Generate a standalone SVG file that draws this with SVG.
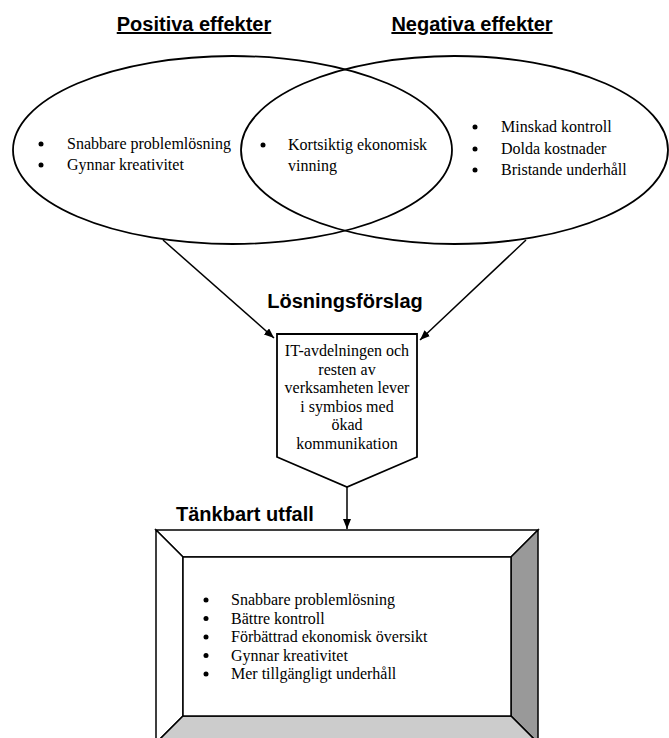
<svg xmlns="http://www.w3.org/2000/svg" width="669" height="738" viewBox="0 0 669 738">
<style>
.title{font-family:"Liberation Sans",Arial,sans-serif;font-weight:bold;font-size:20px;fill:#000}
.ul{text-decoration:underline}
.t{font-family:"Liberation Serif","Times New Roman",serif;font-size:16px;fill:#000}
.shape{fill:none;stroke:#000;stroke-width:1.8}
.line{stroke:#000;stroke-width:1.5;fill:none}
.bev{stroke:#000;stroke-width:1.5;stroke-linejoin:miter}
</style>
<defs>
<marker id="ah" viewBox="0 0 10 8" refX="10" refY="4" markerWidth="10" markerHeight="8" markerUnits="userSpaceOnUse" orient="auto">
<path d="M0,0 L10,4 L0,8 Z" fill="#000"/>
</marker>
</defs>
<rect width="669" height="738" fill="#fff"/>
<g id="titles">
<text class="title ul" x="194" y="31" text-anchor="middle">Positiva effekter</text>
<text class="title ul" x="472" y="31" text-anchor="middle">Negativa effekter</text>
</g>
<g id="positive">
<ellipse class="shape" cx="232.5" cy="150" rx="219.5" ry="94"/>
<circle cx="41" cy="144" r="2.5"/>
<circle cx="41" cy="165" r="2.5"/>
<text class="t" x="67" y="149">Snabbare problemlösning</text>
<text class="t" x="67" y="170">Gynnar kreativitet</text>
</g>
<g id="negative">
<ellipse class="shape" cx="454.5" cy="150" rx="213.5" ry="94"/>
<circle cx="475" cy="127" r="2.5"/>
<circle cx="475" cy="149" r="2.5"/>
<circle cx="475" cy="170" r="2.5"/>
<text class="t" x="501" y="132">Minskad kontroll</text>
<text class="t" x="501" y="153.5">Dolda kostnader</text>
<text class="t" x="501" y="175">Bristande underhåll</text>
</g>
<g id="overlap">
<circle cx="263" cy="145" r="2.5"/>
<text class="t" x="288" y="150">Kortsiktig ekonomisk</text>
<text class="t" x="288" y="171">vinning</text>
</g>
<g id="connectors">
<line class="line" x1="163" y1="240" x2="274" y2="338" marker-end="url(#ah)"/>
<line class="line" x1="526" y1="240" x2="420" y2="340" marker-end="url(#ah)"/>
<line class="line" x1="347" y1="487" x2="347" y2="529" marker-end="url(#ah)"/>
</g>
<g id="losning">
<text class="title" x="345" y="308" text-anchor="middle">Lösningsförslag</text>
<path class="shape" d="M277,334 L417,334 L417,457 L347,487 L277,457 Z" fill="#fff"/>
<text class="t" x="347" y="356" text-anchor="middle">IT-avdelningen och</text>
<text class="t" x="347" y="374.5" text-anchor="middle">resten av</text>
<text class="t" x="347" y="393" text-anchor="middle">verksamheten lever</text>
<text class="t" x="347" y="411.5" text-anchor="middle">i symbios med</text>
<text class="t" x="347" y="430" text-anchor="middle">ökad</text>
<text class="t" x="347" y="448.5" text-anchor="middle">kommunikation</text>
</g>
<g id="utfall">
<text class="title" x="176" y="521">Tänkbart utfall</text>
<path class="bev" d="M156,530 L538,530 L511,557 L183,557 Z" fill="#fff"/>
<path class="bev" d="M156,530 L183,557 L183,716 L156,743 Z" fill="#fff"/>
<path class="bev" d="M538,530 L538,743 L511,716 L511,557 Z" fill="#999"/>
<path class="bev" d="M156,743 L183,716 L511,716 L538,743 Z" fill="#ccc"/>
<rect class="bev" x="183" y="557" width="328" height="159" fill="#fff"/>
<circle cx="206" cy="600" r="2.5"/>
<circle cx="206" cy="618.5" r="2.5"/>
<circle cx="206" cy="637" r="2.5"/>
<circle cx="206" cy="655.5" r="2.5"/>
<circle cx="206" cy="674" r="2.5"/>
<text class="t" x="231" y="605">Snabbare problemlösning</text>
<text class="t" x="231" y="623.5">Bättre kontroll</text>
<text class="t" x="231" y="642">Förbättrad ekonomisk översikt</text>
<text class="t" x="231" y="660.5">Gynnar kreativitet</text>
<text class="t" x="231" y="679">Mer tillgängligt underhåll</text>
</g>
</svg>
